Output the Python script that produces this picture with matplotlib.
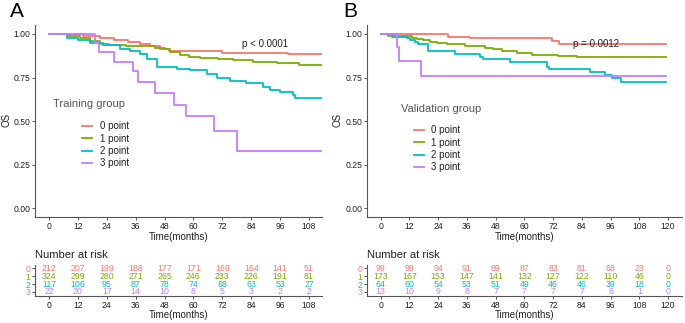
import matplotlib
matplotlib.use("Agg")
import matplotlib.pyplot as plt

plt.rcParams['font.family'] = ['Liberation Sans', 'DejaVu Sans']

colors = ['#F8766D', '#7CAE00', '#00BFC4', '#C77CFF']
labels = ['0 point', '1 point', '2 point', '3 point']

# training group (A) step curves: event times and survival after each step
a_t0 = [0, 14, 21, 27, 33, 38, 42, 46, 50, 71.7, 99.4, 113.4]
a_s0 = [1.0, 0.99, 0.979, 0.964, 0.955, 0.945, 0.93, 0.912, 0.9, 0.893, 0.882, 0.882]
a_t1 = [0, 8, 13, 17, 21, 25, 32, 44, 48, 50.3, 54.4, 58, 62.7, 70, 76.5, 84.8, 94.5, 104, 113.4]
a_s1 = [1.0, 0.99, 0.975, 0.96, 0.945, 0.935, 0.928, 0.922, 0.912, 0.894, 0.879, 0.87, 0.862, 0.856, 0.85, 0.84, 0.834, 0.823, 0.823]
a_t2 = [0, 7.3, 12, 17, 22.6, 29.5, 33.6, 37.8, 40.6, 44.7, 53, 58.6, 65.5, 69.6, 75.2, 82, 89, 91.8, 95.9, 101.5, 102.2, 113.4]
a_s2 = [1.0, 0.979, 0.965, 0.95, 0.935, 0.912, 0.903, 0.884, 0.855, 0.812, 0.8, 0.794, 0.77, 0.747, 0.731, 0.716, 0.697, 0.678, 0.665, 0.651, 0.63, 0.63]
a_t3 = [0, 19.1, 20.9, 27.1, 35, 36.8, 44, 52, 56.8, 68.7, 78, 113.4]
a_s3 = [1.0, 0.95, 0.895, 0.84, 0.785, 0.727, 0.663, 0.594, 0.527, 0.442, 0.33, 0.33]

# validation group (B)
b_t0 = [0, 28.2, 37.3, 71.4, 74.6, 119.2]
b_s0 = [1.0, 0.985, 0.975, 0.962, 0.943, 0.943]
b_t1 = [0, 3.2, 12.9, 15, 17.8, 20.6, 23.4, 27.6, 35.2, 43.6, 47, 50.5, 56.8, 63, 74.2, 81.9, 119.2]
b_s1 = [1.0, 0.99, 0.979, 0.971, 0.964, 0.956, 0.947, 0.941, 0.931, 0.922, 0.913, 0.903, 0.89, 0.88, 0.874, 0.867, 0.867]
b_t2 = [0, 4.6, 10.9, 12.2, 14.3, 15.7, 19.9, 31, 41.5, 42.9, 54, 69.3, 70.4, 87.4, 93.7, 96.5, 100.4, 119.2]
b_s2 = [1.0, 0.985, 0.975, 0.966, 0.952, 0.943, 0.903, 0.886, 0.87, 0.857, 0.838, 0.813, 0.8, 0.781, 0.766, 0.747, 0.724, 0.724]
b_t3 = [0, 6.7, 7.8, 16.8, 119.2]
b_s3 = [1.0, 0.923, 0.846, 0.761, 0.761]

# numbers at risk
a_ticks = [0, 12, 24, 36, 48, 60, 72, 84, 96, 108]
a_risk0 = [212, 207, 199, 188, 177, 171, 169, 164, 141, 51]
a_risk1 = [324, 299, 280, 271, 265, 246, 233, 226, 191, 81]
a_risk2 = [117, 106, 95, 87, 78, 74, 68, 63, 53, 27]
a_risk3 = [22, 20, 17, 14, 10, 8, 5, 3, 2, 2]

b_ticks = [0, 12, 24, 36, 48, 60, 72, 84, 96, 108, 120]
b_risk0 = [99, 99, 94, 91, 89, 87, 83, 81, 68, 23, 0]
b_risk1 = [173, 167, 153, 147, 141, 132, 127, 122, 110, 46, 0]
b_risk2 = [64, 60, 54, 53, 51, 49, 46, 46, 39, 18, 0]
b_risk3 = [13, 10, 9, 8, 7, 7, 7, 7, 6, 1, 0]

pval = {'A': 'p < 0.0001', 'B': 'p = 0.0012'}

spine_col = '#555555'
text_col = '#222222'


def style_axes(ax):
    for s in ['top', 'right']:
        ax.spines[s].set_visible(False)
    for s in ['left', 'bottom']:
        ax.spines[s].set_color(spine_col)
        ax.spines[s].set_linewidth(0.8)
    ax.tick_params(colors=spine_col, labelcolor=text_col, labelsize=6.2,
                   length=2.5, width=0.7, pad=1)


def draw_panel(fig, left, width, letter, curves, xlim, ticks, risks,
               group_title, title_pos, leg_pos, os_x, letter_x):
    ax = fig.add_axes([left, 0.328, width, 0.594])
    for (t, s), c, lab in zip(curves, colors, labels):
        ax.step(t, s, where='post', color=c, lw=1.3, label=lab)
    ax.set_xlim(xlim)
    ax.set_ylim(-0.05, 1.05)
    ax.set_xticks(ticks)
    ax.set_yticks([0, 0.25, 0.5, 0.75, 1.0])
    ax.set_yticklabels(['0.00', '0.25', '0.50', '0.75', '1.00'])
    style_axes(ax)
    ax.set_xlabel('Time(months)', fontsize=7, color=text_col, labelpad=0.5)
    fig.text(os_x, 0.628, 'OS', rotation=90, fontsize=7, color=text_col,
             ha='center', va='center')
    ax.text(title_pos[0], title_pos[1], group_title, transform=ax.transAxes,
            fontsize=8, color='#555555', ha='left', va='center')
    leg = ax.legend(loc='upper left', bbox_to_anchor=leg_pos, frameon=False,
                    fontsize=7, handlelength=1.0, handletextpad=0.8,
                    labelspacing=0.25, borderpad=0, borderaxespad=0)
    for txt in leg.get_texts():
        txt.set_color(text_col)
    ax.text(80.2, 0.943, pval[letter], fontsize=7, color=text_col,
            ha='left', va='center')
    fig.text(letter_x, 0.963, letter, fontsize=15, ha='left', va='center')

    # risk table
    rt = fig.add_axes([left, 0.0845, width, 0.0966])
    for i, (row, c) in enumerate(zip(risks, colors)):
        for x, n in zip(ticks, row):
            rt.text(x, i, str(n), color=c, fontsize=6.3, ha='center', va='center')
    rt.set_xlim(xlim)
    rt.set_ylim(3.5, -0.5)
    rt.set_xticks(ticks)
    rt.set_yticks([0, 1, 2, 3])
    style_axes(rt)
    rt.tick_params(axis='y', length=2, pad=1.5)
    for lbl, c in zip(rt.set_yticklabels(['0', '1', '2', '3']), colors):
        lbl.set_color(c)
    rt.set_xlabel('Time(months)', fontsize=7, color=text_col, labelpad=0.3)
    rt.set_title('Number at risk', loc='left', fontsize=8, color=text_col, pad=5)


fig = plt.figure(figsize=(6.85, 3.23), dpi=100)

draw_panel(fig, 0.0511, 0.419, 'A',
           [(a_t0, a_s0), (a_t1, a_s1), (a_t2, a_s2), (a_t3, a_s3)],
           (-5.8, 113.4), a_ticks, [a_risk0, a_risk1, a_risk2, a_risk3],
           'Training group', (0.063, 0.589), (0.164, 0.5), 0.009, 0.0146)

draw_panel(fig, 0.5358, 0.4594, 'B',
           [(b_t0, b_s0), (b_t1, b_s1), (b_t2, b_s2), (b_t3, b_s3)],
           (-5.7, 125.7), b_ticks, [b_risk0, b_risk1, b_risk2, b_risk3],
           'Validation group', (0.108, 0.5625), (0.149, 0.479), 0.492, 0.501)

fig.savefig('out.png', dpi=100)
